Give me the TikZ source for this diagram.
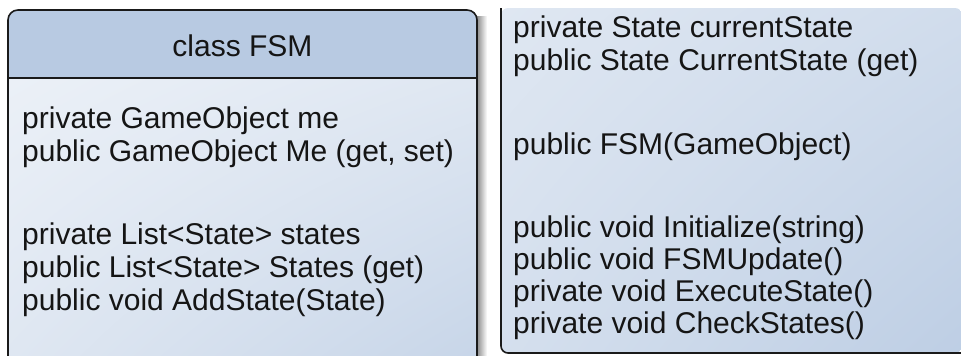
\documentclass[tikz,border=0pt]{standalone}
\usepackage{fontspec}
\setmainfont{Liberation Sans}
\usetikzlibrary{shadings}
\definecolor{headfill}{HTML}{B8CAE2}
\definecolor{edge}{HTML}{1A1A1A}
\definecolor{ink}{HTML}{151515}
\begin{document}
\begin{tikzpicture}[x=1pt,y=-1pt,
  member/.style={anchor=base west, inner sep=0pt, font=\fontsize{30}{34}\selectfont, text=ink},
  title/.style={anchor=base, inner sep=0pt, font=\fontsize{30}{34}\selectfont, text=ink},
  frame/.style={draw=edge, line width=1.6pt}]
\useasboundingbox (0,0) rectangle (961,356);

% soft shadow to the right of the class box
\shade[left color=black!45, right color=white] (477,16) rectangle (487,356);

% class box: header and body
\fill[headfill, rounded corners=10pt] (8,78) -- (8,10) -- (477,10) -- (477,78) -- cycle;
\fill[headfill] (8,60) rectangle (477,78);
\shade[upper left=white!72!headfill, upper right=white!55!headfill,
       lower left=white!55!headfill, lower right=white!22!headfill]
  (8,78) rectangle (477,356);
\draw[frame, rounded corners=10pt] (8,357) -- (8,10) -- (477,10) -- (477,357);
\draw[frame] (8,78) -- (477,78);

% continuation panel
\shade[upper left=white!55!headfill, upper right=white!35!headfill,
       lower left=white!40!headfill, lower right=white!8!headfill, rounded corners=7pt]
  (501,8) -- (501,353) -- (962,353) -- (962,8) -- cycle;
\draw[frame, rounded corners=7pt] (501,8) -- (501,353) -- (962,353);

% class name
\node[title] (cname) at (242.5,56) {class FSM};

% fields and members in the class box
\node[member] (f1) at (22,128) {private GameObject me};
\node[member] (f2) at (22,161) {public GameObject Me (get, set)};
\node[member] (f3) at (22,244) {private List<State> states};
\node[member] (f4) at (22,277) {public List<State> States (get)};
\node[member] (f5) at (22,310) {public void AddState(State)};

% members in the continuation panel
\node[member] (g1) at (513,37) {private State currentState};
\node[member] (g2) at (513,70) {public State CurrentState (get)};
\node[member] (g3) at (513,154) {public FSM(GameObject)};
\node[member] (g4) at (513,237) {public void Initialize(string)};
\node[member] (g5) at (513,269) {public void FSMUpdate()};
\node[member] (g6) at (513,301) {private void ExecuteState()};
\node[member] (g7) at (513,333) {private void CheckStates()};
\end{tikzpicture}
\end{document}
